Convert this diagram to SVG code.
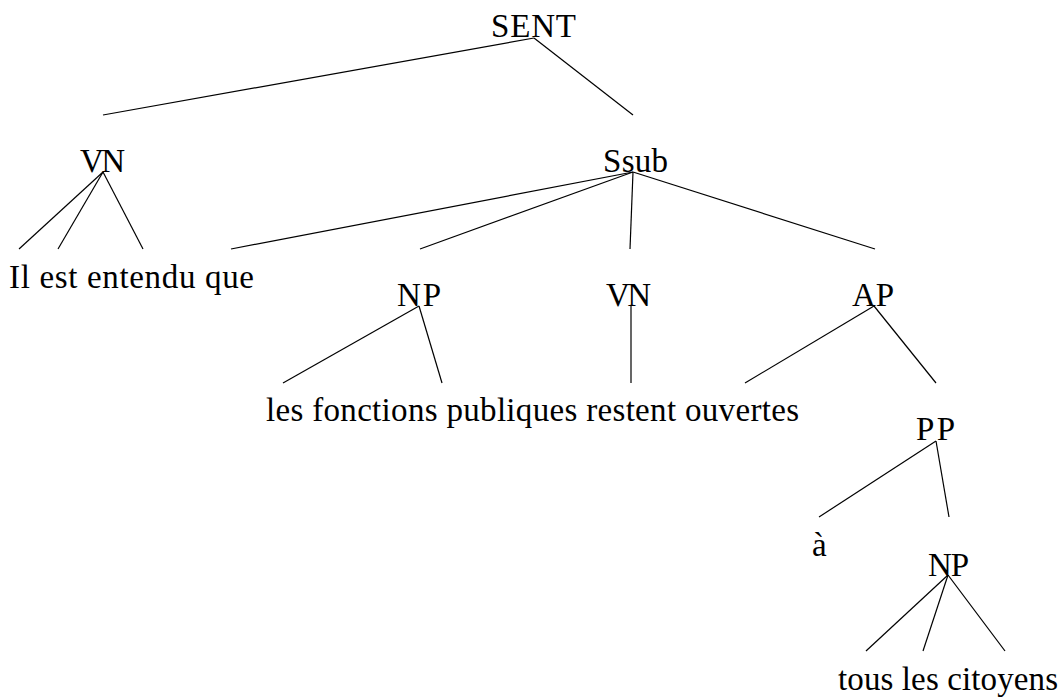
<svg xmlns="http://www.w3.org/2000/svg" width="1062" height="697" viewBox="0 0 1062 697">
<style>
text{font-family:"Liberation Serif","Times New Roman",serif;font-size:33px;fill:#000}
.e line{stroke:#000;stroke-width:1.2}
</style>
<rect width="1062" height="697" fill="#fff"/>
<g class="e" id="edges">
<line x1="534" y1="38" x2="103" y2="115"/>
<line x1="534" y1="38" x2="633" y2="115"/>
<line x1="103" y1="172" x2="19" y2="249"/>
<line x1="103" y1="172" x2="58" y2="249"/>
<line x1="103" y1="172" x2="143" y2="249"/>
<line x1="633" y1="172" x2="231" y2="249"/>
<line x1="633" y1="172" x2="420" y2="249"/>
<line x1="633" y1="172" x2="630" y2="249"/>
<line x1="633" y1="172" x2="875" y2="249"/>
<line x1="419" y1="306" x2="283" y2="383"/>
<line x1="419" y1="306" x2="442" y2="383"/>
<line x1="631" y1="306" x2="631" y2="383"/>
<line x1="874" y1="306" x2="745" y2="383"/>
<line x1="874" y1="306" x2="936" y2="383"/>
<line x1="936" y1="441" x2="819" y2="517"/>
<line x1="936" y1="441" x2="949" y2="517"/>
<line x1="948" y1="575" x2="866" y2="651"/>
<line x1="948" y1="575" x2="923" y2="651"/>
<line x1="948" y1="575" x2="1005" y2="651"/>
</g>
<g id="n-sent"><text x="491" y="37" textLength="85" lengthAdjust="spacing">SENT</text></g>
<g id="n-vn1"><text x="80" y="172" textLength="45" lengthAdjust="spacing">VN</text></g>
<g id="n-ssub"><text x="603" y="172" textLength="65" lengthAdjust="spacing">Ssub</text></g>
<g id="n-w1"><text x="9" y="288" textLength="245" lengthAdjust="spacing">Il est entendu que</text></g>
<g id="n-np1"><text x="397" y="306" textLength="44" lengthAdjust="spacing">NP</text></g>
<g id="n-vn2"><text x="606" y="306" textLength="45" lengthAdjust="spacing">VN</text></g>
<g id="n-ap"><text x="852" y="306" textLength="42" lengthAdjust="spacing">AP</text></g>
<g id="n-w2"><text x="266" y="421" textLength="533" lengthAdjust="spacing">les fonctions publiques restent ouvertes</text></g>
<g id="n-pp"><text x="916" y="440" textLength="39" lengthAdjust="spacing">PP</text></g>
<g id="n-a"><text x="812" y="556">à</text></g>
<g id="n-np2"><text x="928" y="576" textLength="41" lengthAdjust="spacing">NP</text></g>
<g id="n-w3"><text x="838" y="690" textLength="220" lengthAdjust="spacing">tous les citoyens</text></g>
</svg>
